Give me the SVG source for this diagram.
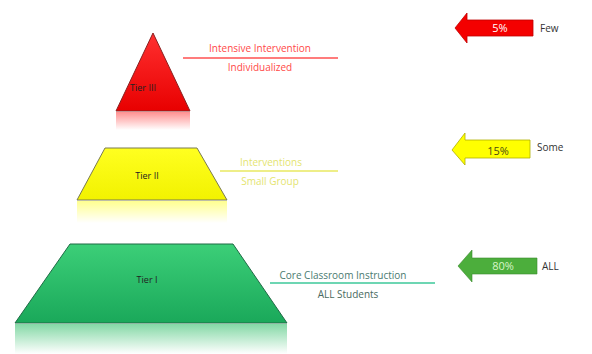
<svg xmlns="http://www.w3.org/2000/svg" width="592" height="354" viewBox="0 0 592 354">
<defs>
<style>
text{font-family:"Open Sans","Liberation Sans",sans-serif;}
.lbl{font-size:9px;fill:#222;text-anchor:middle;}
.desc{font-size:10px;text-anchor:middle;}
.side{font-size:10px;fill:#333;}
.pct{font-size:11px;text-anchor:middle;}
</style>
<linearGradient id="gRed" x1="0" y1="0" x2="0" y2="1"><stop offset="0" stop-color="#ff3030"/><stop offset="1" stop-color="#e80000"/></linearGradient>
<linearGradient id="gYel" x1="0" y1="0" x2="0" y2="1"><stop offset="0" stop-color="#ffff20"/><stop offset="1" stop-color="#f2f200"/></linearGradient>
<linearGradient id="gGrn" x1="0" y1="0" x2="0" y2="1"><stop offset="0" stop-color="#3ccf78"/><stop offset="1" stop-color="#1aa85a"/></linearGradient>
<linearGradient id="rRed" x1="0" y1="0" x2="0" y2="1"><stop offset="0" stop-color="#ff6060" stop-opacity="0.7"/><stop offset="1" stop-color="#ff6060" stop-opacity="0"/></linearGradient>
<linearGradient id="rYel" x1="0" y1="0" x2="0" y2="1"><stop offset="0" stop-color="#ffff60" stop-opacity="0.7"/><stop offset="1" stop-color="#ffff60" stop-opacity="0"/></linearGradient>
<linearGradient id="rGrn" x1="0" y1="0" x2="0" y2="1"><stop offset="0" stop-color="#50c880" stop-opacity="0.7"/><stop offset="1" stop-color="#50c880" stop-opacity="0"/></linearGradient>
</defs>
<rect width="592" height="354" fill="#ffffff"/>

<g id="tier3">
<polygon points="153,33 190,111 116,111" fill="url(#gRed)" stroke="#8a2020" stroke-width="1"/>
<rect x="116" y="112" width="74" height="18" fill="url(#rRed)"/>
<text class="lbl" x="143" y="91">Tier III</text>
</g>
<g id="tier2">
<polygon points="105,148 197,148 227,200 77,200" fill="url(#gYel)" stroke="#7a7a50" stroke-width="1"/>
<rect x="77" y="201" width="150" height="22" fill="url(#rYel)"/>
<text class="lbl" x="147" y="179">Tier II</text>
</g>
<g id="tier1">
<polygon points="70,244 233,244 287,323 15,323" fill="url(#gGrn)" stroke="#1f6a45" stroke-width="1"/>
<rect x="15" y="324" width="272" height="30" fill="url(#rGrn)"/>
<text class="lbl" x="147" y="283">Tier I</text>
</g>

<g id="connectors">
<line x1="183" y1="58" x2="338" y2="58" stroke="#ff5050" stroke-width="1.5"/>
<line x1="220" y1="171" x2="338" y2="171" stroke="#e8e860" stroke-width="1.5"/>
<line x1="270" y1="283" x2="435" y2="283" stroke="#3cc89a" stroke-width="1.5"/>
</g>

<g id="desc3">
<text class="desc" x="260" y="52" fill="#ff4848">Intensive Intervention</text>
<text class="desc" x="260" y="71" fill="#ff4848">Individualized</text>
</g>
<g id="desc2">
<text class="desc" x="271" y="166" fill="#e4e470">Interventions</text>
<text class="desc" x="270" y="185" fill="#e4e470">Small Group</text>
</g>
<g id="desc1">
<text class="desc" x="343" y="279" fill="#4a7a70">Core Classroom Instruction</text>
<text class="desc" x="348" y="298" fill="#4a6a60">ALL Students</text>
</g>

<g id="arrow3">
<polygon points="455,28 467,13 467,20 533,20 533,36 467,36 467,43" fill="#f40000" stroke="#c00000" stroke-width="0.8"/>
<text class="pct" x="500" y="32" fill="#ffffff">5%</text>
<text class="side" x="540" y="32">Few</text>
</g>
<g id="arrow2">
<polygon points="452,150 465,133 465,140 530,140 530,158 465,158 465,165" fill="#ffff00" stroke="#b0b000" stroke-width="0.8"/>
<text class="pct" x="498" y="155" fill="#4a4a10">15%</text>
<text class="side" x="537" y="151">Some</text>
</g>
<g id="arrow1">
<polygon points="458,266 472,250 472,258 537,258 537,274 472,274 472,282" fill="#4cae3c" stroke="#3a8a2e" stroke-width="0.6"/>
<text class="pct" x="503" y="270" fill="#d8f5c8">80%</text>
<text class="side" x="542" y="270">ALL</text>
</g>
</svg>
